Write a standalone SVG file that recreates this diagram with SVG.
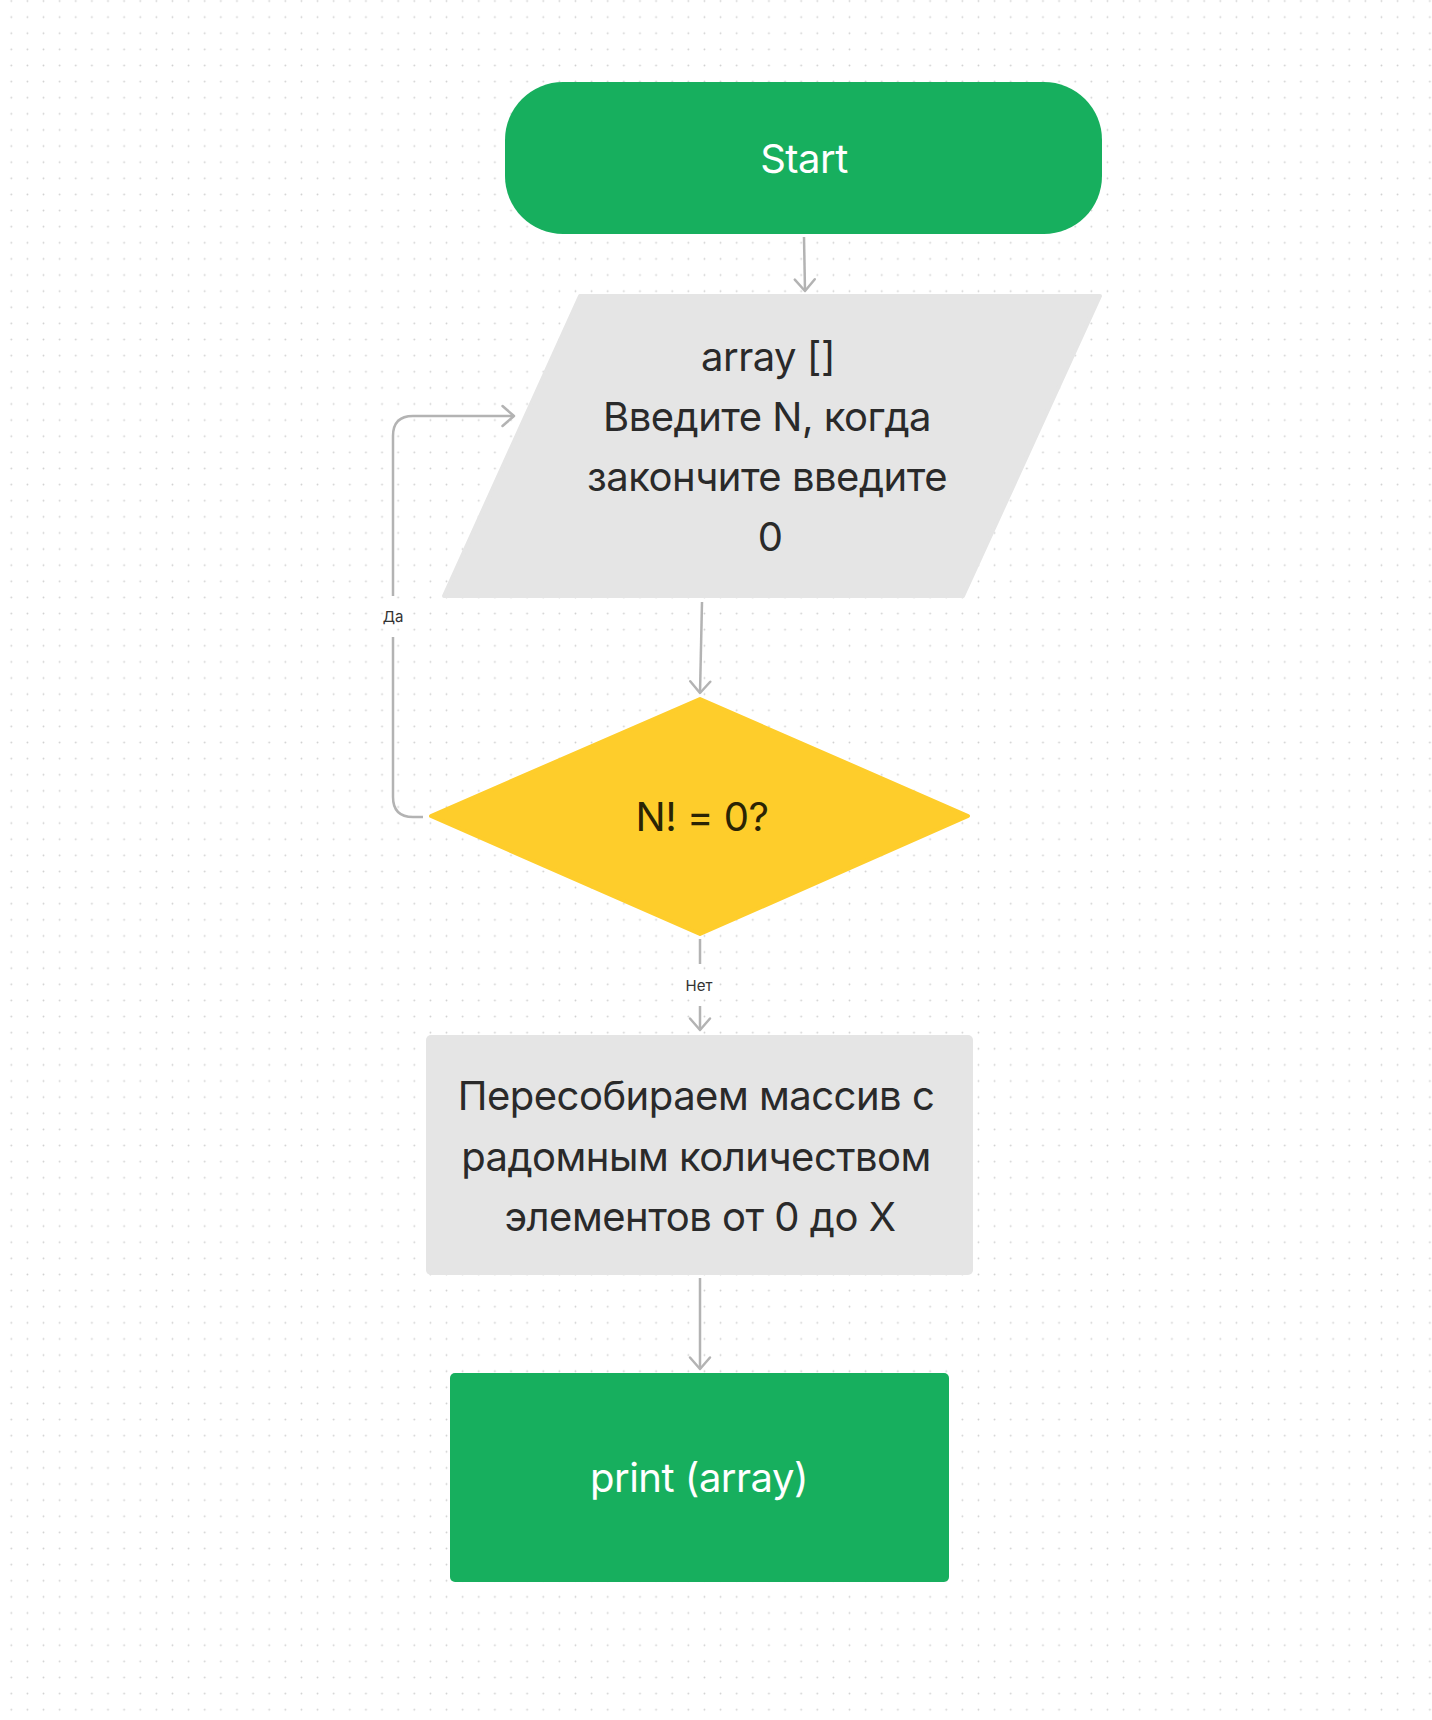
<svg xmlns="http://www.w3.org/2000/svg" width="1432" height="1720" viewBox="0 0 1432 1720">
  <defs>
    <pattern id="dots" x="3.24" y="-7.06" width="16.12" height="16.12" patternUnits="userSpaceOnUse">
      <circle cx="8.06" cy="8.06" r="0.9" fill="#cfcfcf"/>
    </pattern>
    <marker id="arr" viewBox="-14 -12 16 24" refX="0" refY="0" markerWidth="16" markerHeight="24" markerUnits="userSpaceOnUse" orient="auto">
      <path d="M-11.5 -10 L0 0 L-11.5 10" fill="none" stroke="#b3b3b3" stroke-width="2.5" stroke-linecap="round" stroke-linejoin="round"/>
    </marker>
  </defs>
  <style>
    .t { font-family: "Inter", "Noto Sans", "Liberation Sans", sans-serif; font-size: 40px; letter-spacing: -0.5px; text-anchor: middle; }
    .dark { fill: #2a2a2a; }
    .light { fill: #ffffff; }
    .lbl { font-family: "Inter", "Noto Sans", "Liberation Sans", sans-serif; font-size: 15px; text-anchor: middle; fill: #333333; }
    .conn { fill: none; stroke: #b3b3b3; stroke-width: 2.5; }
  </style>
  <rect x="0" y="0" width="1432" height="1720" fill="#ffffff"/>
  <rect x="0" y="0" width="1432" height="1720" fill="url(#dots)"/>

  <g id="connectors">
    <path class="conn" d="M804 237 L805 291" marker-end="url(#arr)"/>
    <path class="conn" d="M702 602 L700 693" marker-end="url(#arr)"/>
    <path class="conn" d="M423 817 H413 Q393 817 393 797 V637"/>
    <path class="conn" d="M393 596 V436 Q393 416 413 416 H514" marker-end="url(#arr)"/>
    <text class="lbl" x="393" y="622">Да</text>
    <path class="conn" d="M700 939 V964"/>
    <path class="conn" d="M700 1006 V1030" marker-end="url(#arr)"/>
    <text class="lbl" x="699" y="991">Нет</text>
    <path class="conn" d="M700 1278 V1369" marker-end="url(#arr)"/>
  </g>

  <g id="start">
    <rect x="505" y="82" width="597" height="152" rx="58" ry="58" fill="#17af5e"/>
    <text class="t light" x="804" y="173">Start</text>
  </g>

  <g id="input">
    <polygon points="580,296 1100,296 963,596 444,596" fill="#e5e5e5" stroke="#e5e5e5" stroke-width="4" stroke-linejoin="round"/>
    <text class="t dark" x="768" y="371">array []</text>
    <text class="t dark" x="767" y="431">Введите N, когда</text>
    <text class="t dark" x="767" y="491">закончите введите</text>
    <text class="t dark" x="770" y="551">0</text>
  </g>

  <g id="decision">
    <polygon points="700,699 968,816 700,934 431,816" fill="#fecd2b" stroke="#fecd2b" stroke-width="4" stroke-linejoin="round"/>
    <text class="t" x="702" y="831" fill="#2b2404">N! = 0?</text>
  </g>

  <g id="process">
    <rect x="426" y="1035" width="547" height="240" rx="5" fill="#e5e5e5"/>
    <text class="t dark" x="696" y="1110">Пересобираем массив с</text>
    <text class="t dark" x="696" y="1171">радомным количеством</text>
    <text class="t dark" x="700" y="1231">элементов от 0 до X</text>
  </g>

  <g id="print">
    <rect x="450" y="1373" width="499" height="209" rx="5" fill="#17af5e"/>
    <text class="t light" x="699" y="1492">print (array)</text>
  </g>
</svg>
